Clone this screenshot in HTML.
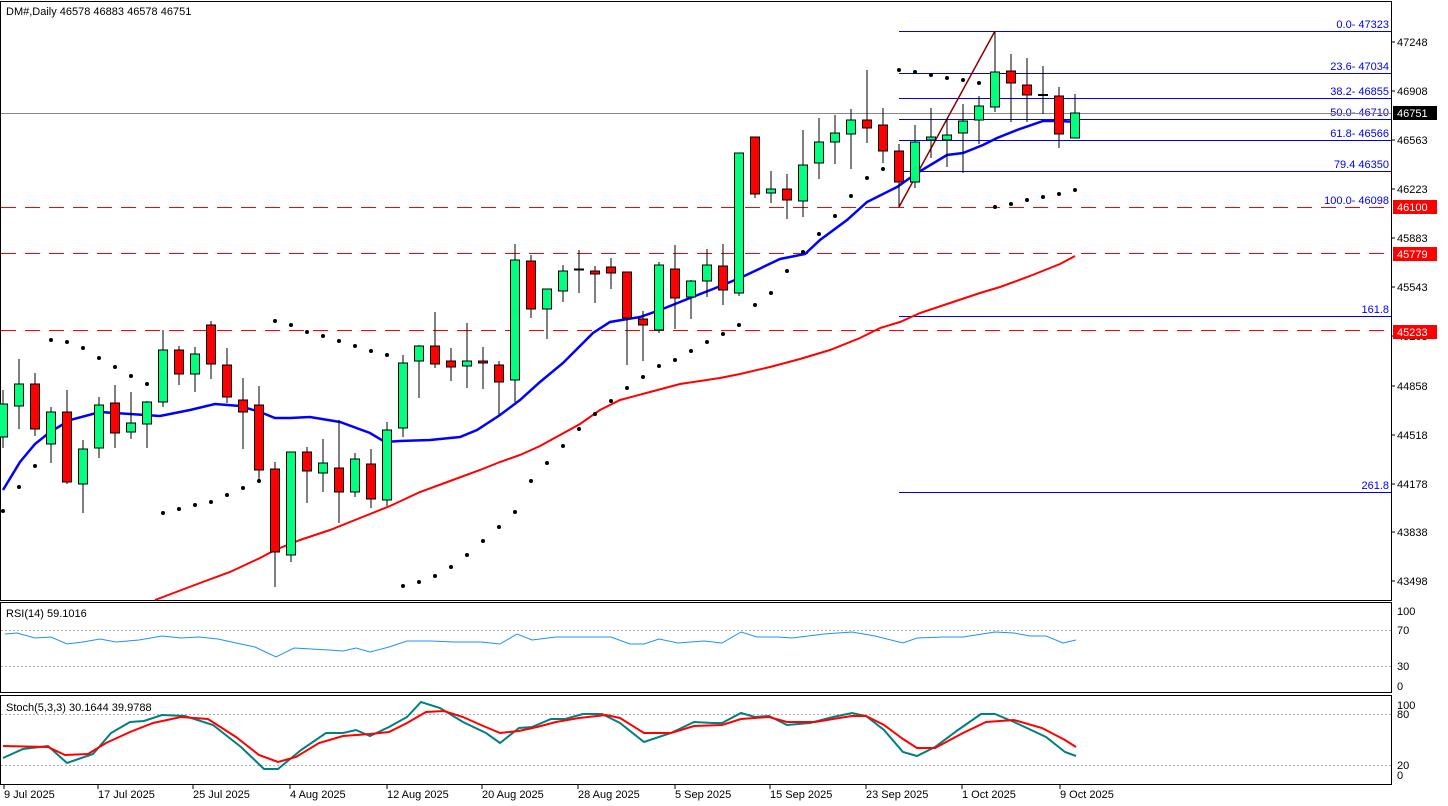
<!DOCTYPE html>
<html><head><meta charset="utf-8"><style>
html,body{margin:0;padding:0;background:#fff;}
svg{display:block;font-family:"Liberation Sans",sans-serif;font-size:11px;}
</style></head><body>
<svg width="1448" height="806" viewBox="0 0 1448 806" xmlns="http://www.w3.org/2000/svg">
<rect x="0" y="0" width="1448" height="806" fill="#fff"/>
<!-- frames -->
<g stroke="#000" fill="none" stroke-width="1">
<rect x="0.5" y="1.5" width="1391" height="599"/>
<rect x="0.5" y="602.5" width="1391" height="90"/>
<rect x="0.5" y="695.5" width="1391" height="89"/>
</g>
<!-- price ticks -->
<g fill="#000">
<text x="1397" y="46">47248</text>
<text x="1397" y="95">46908</text>
<text x="1397" y="144">46563</text>
<text x="1397" y="193">46223</text>
<text x="1397" y="242">45883</text>
<text x="1397" y="291">45543</text>
<text x="1397" y="340">45203</text>
<text x="1397" y="390">44858</text>
<text x="1397" y="439">44518</text>
<text x="1397" y="488">44178</text>
<text x="1397" y="536">43838</text>
<text x="1397" y="585">43498</text>
</g>
<g stroke="#000"><line x1="1391" y1="42" x2="1395" y2="42"/><line x1="1391" y1="91" x2="1395" y2="91"/><line x1="1391" y1="140" x2="1395" y2="140"/><line x1="1391" y1="189" x2="1395" y2="189"/><line x1="1391" y1="238" x2="1395" y2="238"/><line x1="1391" y1="287" x2="1395" y2="287"/><line x1="1391" y1="336" x2="1395" y2="336"/><line x1="1391" y1="386" x2="1395" y2="386"/><line x1="1391" y1="435" x2="1395" y2="435"/><line x1="1391" y1="484" x2="1395" y2="484"/><line x1="1391" y1="532" x2="1395" y2="532"/><line x1="1391" y1="581" x2="1395" y2="581"/></g>
<!-- red dashed levels -->
<g stroke="#f00" stroke-dasharray="15,9">
<line x1="1" y1="207.5" x2="1391" y2="207.5"/>
<line x1="1" y1="253.5" x2="1391" y2="253.5"/>
<line x1="1" y1="330.5" x2="1391" y2="330.5"/>
</g>
<!-- fib lines -->
<g stroke="#0000ee" stroke-width="1">
<line x1="899" y1="31.5" x2="1391" y2="31.5"/>
<line x1="899" y1="73.5" x2="1391" y2="73.5"/>
<line x1="899" y1="98.5" x2="1391" y2="98.5"/>
<line x1="899" y1="119.5" x2="1391" y2="119.5"/>
<line x1="899" y1="140.5" x2="1391" y2="140.5"/>
<line x1="899" y1="171.5" x2="1391" y2="171.5"/>
<line x1="899" y1="316.5" x2="1391" y2="316.5"/>
<line x1="899" y1="492.5" x2="1391" y2="492.5"/>
</g>
<g fill="#0000ee" text-anchor="end">
<text x="1389" y="28">0.0- 47323</text>
<text x="1389" y="70">23.6- 47034</text>
<text x="1389" y="95">38.2- 46855</text>
<text x="1389" y="116">50.0- 46710</text>
<text x="1389" y="137">61.8- 46566</text>
<text x="1389" y="168">79.4 46350</text>
<text x="1389" y="204">100.0- 46098</text>
<text x="1389" y="313">161.8</text>
<text x="1389" y="489">261.8</text>
</g>
<line x1="1" y1="113.5" x2="1391" y2="113.5" stroke="#888"/>
<line x1="899" y1="207" x2="995" y2="31" stroke="#8b0000" stroke-width="1.5"/>
<!-- price label boxes -->
<rect x="1393" y="106" width="44" height="14" fill="#000"/><text x="1397" y="117" fill="#fff">46751</text>
<rect x="1393" y="200" width="44" height="14" fill="#f00"/><text x="1397" y="211" fill="#fff">46100</text>
<rect x="1393" y="247" width="44" height="14" fill="#f00"/><text x="1397" y="258" fill="#fff">45779</text>
<rect x="1393" y="325" width="44" height="14" fill="#f00"/><text x="1397" y="336" fill="#fff">45233</text>
<!-- MAs -->
<polyline fill="none" stroke="#f00" stroke-width="2" points="155,600 200,583 230,572 260,558 275,550 300,540 330,530 360,518 390,506 420,492 450,481 480,470 500,462 520,455 540,446 560,435 580,424 600,410 620,400 650,392 680,384 720,378 740,374 770,367 800,359 830,350 860,338 880,328 900,322 920,313 950,303 980,293 1000,287 1030,276 1060,264 1075,256"/>
<polyline fill="none" stroke="#0000ff" stroke-width="2.5" points="3,490 20,462 35,444 50,432 70,420 100,412 130,414 160,416 190,410 215,404 240,406 260,412 275,418 290,418 310,417 340,422 370,433 385,442 400,441 430,440 460,437 477,430 500,415 520,400 540,382 563,363 593,333 610,322 640,317 660,310 690,298 713,289 740,278 780,259 805,254 820,240 847,220 867,202 897,187 917,173 947,155 963,153 983,145 997,138 1017,130 1043,121 1060,121 1077,122"/>
<!-- candles -->
<g stroke="#000" stroke-width="1">
<line x1="3" y1="390" x2="3" y2="448"/><rect x="-1.5" y="404" width="9" height="33" fill="#00ff7f"/>
<line x1="19" y1="359" x2="19" y2="429"/><rect x="14.5" y="384" width="9" height="22" fill="#00ff7f"/>
<line x1="35" y1="373" x2="35" y2="436"/><rect x="30.5" y="384" width="9" height="45" fill="#f00"/>
<line x1="51" y1="407" x2="51" y2="463"/><rect x="46.5" y="412" width="9" height="32" fill="#00ff7f"/>
<line x1="67" y1="390" x2="67" y2="484"/><rect x="62.5" y="412" width="9" height="70" fill="#f00"/>
<line x1="83" y1="440" x2="83" y2="513"/><rect x="78.5" y="449" width="9" height="35" fill="#00ff7f"/>
<line x1="99" y1="397" x2="99" y2="458"/><rect x="94.5" y="405" width="9" height="43" fill="#00ff7f"/>
<line x1="115" y1="385" x2="115" y2="448"/><rect x="110.5" y="403" width="9" height="30" fill="#f00"/>
<line x1="131" y1="392" x2="131" y2="439"/><rect x="126.5" y="423" width="9" height="9" fill="#00ff7f"/>
<line x1="147" y1="401" x2="147" y2="448"/><rect x="142.5" y="402" width="9" height="22" fill="#00ff7f"/>
<line x1="163" y1="330" x2="163" y2="407"/><rect x="158.5" y="350" width="9" height="52" fill="#00ff7f"/>
<line x1="179" y1="346" x2="179" y2="385"/><rect x="174.5" y="350" width="9" height="24" fill="#f00"/>
<line x1="195" y1="347" x2="195" y2="392"/><rect x="190.5" y="354" width="9" height="20" fill="#00ff7f"/>
<line x1="211" y1="321" x2="211" y2="379"/><rect x="206.5" y="325" width="9" height="39" fill="#f00"/>
<line x1="227" y1="348" x2="227" y2="403"/><rect x="222.5" y="365" width="9" height="32" fill="#f00"/>
<line x1="243" y1="378" x2="243" y2="449"/><rect x="238.5" y="400" width="9" height="12" fill="#f00"/>
<line x1="259" y1="386" x2="259" y2="481"/><rect x="254.5" y="405" width="9" height="65" fill="#f00"/>
<line x1="275" y1="462" x2="275" y2="587"/><rect x="270.5" y="469" width="9" height="83" fill="#f00"/>
<line x1="291" y1="452" x2="291" y2="562"/><rect x="286.5" y="452" width="9" height="103" fill="#00ff7f"/>
<line x1="307" y1="447" x2="307" y2="503"/><rect x="302.5" y="452" width="9" height="19" fill="#f00"/>
<line x1="323" y1="439" x2="323" y2="492"/><rect x="318.5" y="463" width="9" height="10" fill="#00ff7f"/>
<line x1="339" y1="420" x2="339" y2="523"/><rect x="334.5" y="468" width="9" height="24" fill="#f00"/>
<line x1="355" y1="453" x2="355" y2="497"/><rect x="350.5" y="459" width="9" height="33" fill="#00ff7f"/>
<line x1="371" y1="449" x2="371" y2="508"/><rect x="366.5" y="464" width="9" height="35" fill="#f00"/>
<line x1="387" y1="422" x2="387" y2="506"/><rect x="382.5" y="430" width="9" height="70" fill="#00ff7f"/>
<line x1="403" y1="355" x2="403" y2="437"/><rect x="398.5" y="363" width="9" height="65" fill="#00ff7f"/>
<line x1="419" y1="345" x2="419" y2="398"/><rect x="414.5" y="346" width="9" height="15" fill="#00ff7f"/>
<line x1="435" y1="312" x2="435" y2="368"/><rect x="430.5" y="346" width="9" height="18" fill="#f00"/>
<line x1="451" y1="348" x2="451" y2="381"/><rect x="446.5" y="361" width="9" height="6" fill="#f00"/>
<line x1="467" y1="323" x2="467" y2="388"/><rect x="462.5" y="361" width="9" height="5" fill="#00ff7f"/>
<line x1="483" y1="347" x2="483" y2="389"/><rect x="478.5" y="361" width="9" height="2" fill="#f00"/>
<line x1="499" y1="361" x2="499" y2="415"/><rect x="494.5" y="365" width="9" height="17" fill="#f00"/>
<line x1="515" y1="244" x2="515" y2="402"/><rect x="510.5" y="260" width="9" height="120" fill="#00ff7f"/>
<line x1="531" y1="255" x2="531" y2="318"/><rect x="526.5" y="261" width="9" height="48" fill="#f00"/>
<line x1="547" y1="289" x2="547" y2="339"/><rect x="542.5" y="289" width="9" height="20" fill="#00ff7f"/>
<line x1="563" y1="265" x2="563" y2="302"/><rect x="558.5" y="271" width="9" height="20" fill="#00ff7f"/>
<line x1="579" y1="250" x2="579" y2="293"/><line x1="574" y1="269.5" x2="584" y2="269.5" stroke-width="2"/>
<line x1="595" y1="266" x2="595" y2="303"/><rect x="590.5" y="271" width="9" height="3" fill="#f00"/>
<line x1="611" y1="258" x2="611" y2="289"/><rect x="606.5" y="267" width="9" height="6" fill="#f00"/>
<line x1="627" y1="272" x2="627" y2="365"/><rect x="622.5" y="272" width="9" height="46" fill="#f00"/>
<line x1="643" y1="311" x2="643" y2="361"/><rect x="638.5" y="319" width="9" height="6" fill="#f00"/>
<line x1="659" y1="262" x2="659" y2="333"/><rect x="654.5" y="265" width="9" height="65" fill="#00ff7f"/>
<line x1="675" y1="245" x2="675" y2="329"/><rect x="670.5" y="269" width="9" height="29" fill="#f00"/>
<line x1="691" y1="280" x2="691" y2="319"/><rect x="686.5" y="281" width="9" height="16" fill="#00ff7f"/>
<line x1="707" y1="249" x2="707" y2="297"/><rect x="702.5" y="265" width="9" height="16" fill="#00ff7f"/>
<line x1="723" y1="244" x2="723" y2="305"/><rect x="718.5" y="266" width="9" height="24" fill="#f00"/>
<line x1="739" y1="153" x2="739" y2="296"/><rect x="734.5" y="153" width="9" height="140" fill="#00ff7f"/>
<line x1="755" y1="137" x2="755" y2="198"/><rect x="750.5" y="137" width="9" height="57" fill="#f00"/>
<line x1="771" y1="171" x2="771" y2="203"/><rect x="766.5" y="189" width="9" height="4" fill="#00ff7f"/>
<line x1="787" y1="174" x2="787" y2="219"/><rect x="782.5" y="189" width="9" height="11" fill="#f00"/>
<line x1="803" y1="130" x2="803" y2="217"/><rect x="798.5" y="165" width="9" height="36" fill="#00ff7f"/>
<line x1="819" y1="118" x2="819" y2="179"/><rect x="814.5" y="142" width="9" height="21" fill="#00ff7f"/>
<line x1="835" y1="115" x2="835" y2="164"/><rect x="830.5" y="133" width="9" height="9" fill="#00ff7f"/>
<line x1="851" y1="109" x2="851" y2="169"/><rect x="846.5" y="120" width="9" height="14" fill="#00ff7f"/>
<line x1="867" y1="70" x2="867" y2="143"/><rect x="862.5" y="120" width="9" height="8" fill="#f00"/>
<line x1="883" y1="108" x2="883" y2="163"/><rect x="878.5" y="125" width="9" height="26" fill="#f00"/>
<line x1="899" y1="144" x2="899" y2="207"/><rect x="894.5" y="151" width="9" height="31" fill="#f00"/>
<line x1="915" y1="125" x2="915" y2="188"/><rect x="910.5" y="142" width="9" height="40" fill="#00ff7f"/>
<line x1="931" y1="108" x2="931" y2="158"/><rect x="926.5" y="137" width="9" height="3" fill="#00ff7f"/>
<line x1="947" y1="118" x2="947" y2="167"/><rect x="942.5" y="135" width="9" height="5" fill="#00ff7f"/>
<line x1="963" y1="104" x2="963" y2="173"/><rect x="958.5" y="121" width="9" height="12" fill="#00ff7f"/>
<line x1="979" y1="96" x2="979" y2="144"/><rect x="974.5" y="106" width="9" height="14" fill="#00ff7f"/>
<line x1="995" y1="32" x2="995" y2="112"/><rect x="990.5" y="72" width="9" height="35" fill="#00ff7f"/>
<line x1="1011" y1="54" x2="1011" y2="122"/><rect x="1006.5" y="71" width="9" height="12" fill="#f00"/>
<line x1="1027" y1="58" x2="1027" y2="122"/><rect x="1022.5" y="85" width="9" height="10" fill="#f00"/>
<line x1="1043" y1="66" x2="1043" y2="114"/><line x1="1038" y1="95" x2="1048" y2="95" stroke-width="2"/>
<line x1="1059" y1="87" x2="1059" y2="148"/><rect x="1054.5" y="96" width="9" height="38" fill="#f00"/>
<line x1="1075" y1="94" x2="1075" y2="138"/><rect x="1070.5" y="113" width="9" height="25" fill="#00ff7f"/>
</g>
<!-- SAR -->
<g fill="#000">
<circle cx="3" cy="511" r="2"/><circle cx="19" cy="487" r="2"/><circle cx="35" cy="466" r="2"/><circle cx="51" cy="340" r="2"/><circle cx="67" cy="342" r="2"/><circle cx="83" cy="348" r="2"/><circle cx="99" cy="358" r="2"/><circle cx="115" cy="367" r="2"/><circle cx="131" cy="376" r="2"/><circle cx="147" cy="384" r="2"/><circle cx="163" cy="513" r="2"/><circle cx="179" cy="509" r="2"/><circle cx="195" cy="505" r="2"/><circle cx="211" cy="502" r="2"/><circle cx="227" cy="495" r="2"/><circle cx="243" cy="488" r="2"/><circle cx="259" cy="481" r="2"/><circle cx="275" cy="321" r="2"/><circle cx="291" cy="325" r="2"/><circle cx="307" cy="332" r="2"/><circle cx="323" cy="336" r="2"/><circle cx="339" cy="341" r="2"/><circle cx="355" cy="346" r="2"/><circle cx="371" cy="351" r="2"/><circle cx="387" cy="355" r="2"/><circle cx="403" cy="586" r="2"/><circle cx="419" cy="582" r="2"/><circle cx="435" cy="576" r="2"/><circle cx="451" cy="567" r="2"/><circle cx="467" cy="555" r="2"/><circle cx="483" cy="541" r="2"/><circle cx="499" cy="527" r="2"/><circle cx="515" cy="512" r="2"/><circle cx="531" cy="481" r="2"/><circle cx="547" cy="463" r="2"/><circle cx="563" cy="446" r="2"/><circle cx="579" cy="429" r="2"/><circle cx="595" cy="414" r="2"/><circle cx="611" cy="401" r="2"/><circle cx="627" cy="388" r="2"/><circle cx="643" cy="377" r="2"/><circle cx="659" cy="366" r="2"/><circle cx="675" cy="360" r="2"/><circle cx="691" cy="351" r="2"/><circle cx="707" cy="342" r="2"/><circle cx="723" cy="334" r="2"/><circle cx="739" cy="325" r="2"/><circle cx="755" cy="305" r="2"/><circle cx="771" cy="293" r="2"/><circle cx="787" cy="271" r="2"/><circle cx="803" cy="252" r="2"/><circle cx="819" cy="234" r="2"/><circle cx="835" cy="216" r="2"/><circle cx="851" cy="196" r="2"/><circle cx="867" cy="178" r="2"/><circle cx="883" cy="169" r="2"/><circle cx="899" cy="70" r="2"/><circle cx="915" cy="72" r="2"/><circle cx="931" cy="75" r="2"/><circle cx="947" cy="78" r="2"/><circle cx="963" cy="80" r="2"/><circle cx="979" cy="83" r="2"/><circle cx="995" cy="207" r="2"/><circle cx="1011" cy="204" r="2"/><circle cx="1027" cy="200" r="2"/><circle cx="1043" cy="197" r="2"/><circle cx="1059" cy="194" r="2"/><circle cx="1075" cy="190" r="2"/>
</g>
<text x="6" y="15" fill="#000">DM#,Daily  46578 46883 46578 46751</text>
<!-- RSI -->
<g stroke="#aaa" stroke-dasharray="2,2"><line x1="1" y1="630.5" x2="1391" y2="630.5"/><line x1="1" y1="666.5" x2="1391" y2="666.5"/><line x1="1" y1="714.5" x2="1391" y2="714.5"/><line x1="1" y1="765.5" x2="1391" y2="765.5"/></g>
<g fill="#000"><text x="1397" y="615">100</text><text x="1397" y="634">70</text><text x="1397" y="670">30</text><text x="1397" y="690">0</text>
<text x="1397" y="709">100</text><text x="1397" y="718">80</text><text x="1397" y="769">20</text><text x="1397" y="779">0</text></g>
<text x="6" y="617" fill="#000">RSI(14) 59.1016</text>
<polyline fill="none" stroke="#1e90ff" stroke-width="1" points="5,634 17,633 35,638 51,637 67,644 83,642 100,639 116,642 139,640 162,636 181,638 199,637 218,639 236,643 255,647 276,657 294,648 329,650 343,651 356,648 370,652 389,647 407,641 431,641 454,642 481,642 500,644 517,634 532,640 556,637 611,637 630,644 644,644 659,639 678,643 704,641 722,643 741,632 757,637 778,637 792,638 824,634 852,632 875,636 903,643 917,638 944,637 963,637 995,632 1014,633 1030,636 1046,636 1063,643 1076,640"/>
<!-- Stoch -->
<text x="6" y="711" fill="#000">Stoch(5,3,3) 30.1644 39.9788</text>
<polyline fill="none" stroke="#008080" stroke-width="2" points="3,758 23,749 48,746 67,763 93,754 111,733 130,722 144,721 162,715 185,716 213,725 241,747 264,769 278,769 301,750 326,733 343,733 356,730 370,736 389,727 407,717 421,702 440,708 463,722 486,733 500,743 519,728 532,727 551,719 565,719 583,714 602,714 620,723 644,742 671,733 694,722 713,723 722,723 741,713 755,717 769,716 787,725 810,723 833,717 852,713 866,716 884,730 903,752 917,756 935,747 958,730 981,714 995,714 1014,722 1046,737 1065,752 1076,756"/>
<polyline fill="none" stroke="#f00" stroke-width="2" points="3,746 48,747 65,755 88,754 106,743 130,732 153,723 181,717 208,719 236,737 259,755 278,762 296,757 319,743 343,736 370,734 389,732 407,723 426,712 444,711 463,717 481,725 500,733 519,731 537,727 556,722 579,718 606,715 620,718 644,733 671,733 694,726 722,725 741,719 769,717 787,722 815,722 833,719 852,716 866,716 884,725 903,739 917,748 935,748 963,733 986,722 1014,720 1042,728 1065,740 1076,747"/>
<!-- dates -->
<g stroke="#000"><line x1="4" y1="784" x2="4" y2="789"/><line x1="98" y1="784" x2="98" y2="789"/><line x1="193" y1="784" x2="193" y2="789"/><line x1="290" y1="784" x2="290" y2="789"/><line x1="387" y1="784" x2="387" y2="789"/><line x1="482" y1="784" x2="482" y2="789"/><line x1="578" y1="784" x2="578" y2="789"/><line x1="675" y1="784" x2="675" y2="789"/><line x1="770" y1="784" x2="770" y2="789"/><line x1="866" y1="784" x2="866" y2="789"/><line x1="962" y1="784" x2="962" y2="789"/><line x1="1060" y1="784" x2="1060" y2="789"/></g>
<g fill="#000">
<text x="4" y="798">9 Jul 2025</text><text x="98" y="798">17 Jul 2025</text><text x="193" y="798">25 Jul 2025</text><text x="290" y="798">4 Aug 2025</text><text x="387" y="798">12 Aug 2025</text><text x="482" y="798">20 Aug 2025</text><text x="578" y="798">28 Aug 2025</text><text x="675" y="798">5 Sep 2025</text><text x="770" y="798">15 Sep 2025</text><text x="866" y="798">23 Sep 2025</text><text x="962" y="798">1 Oct 2025</text><text x="1060" y="798">9 Oct 2025</text>
</g>
</svg>
</body></html>
